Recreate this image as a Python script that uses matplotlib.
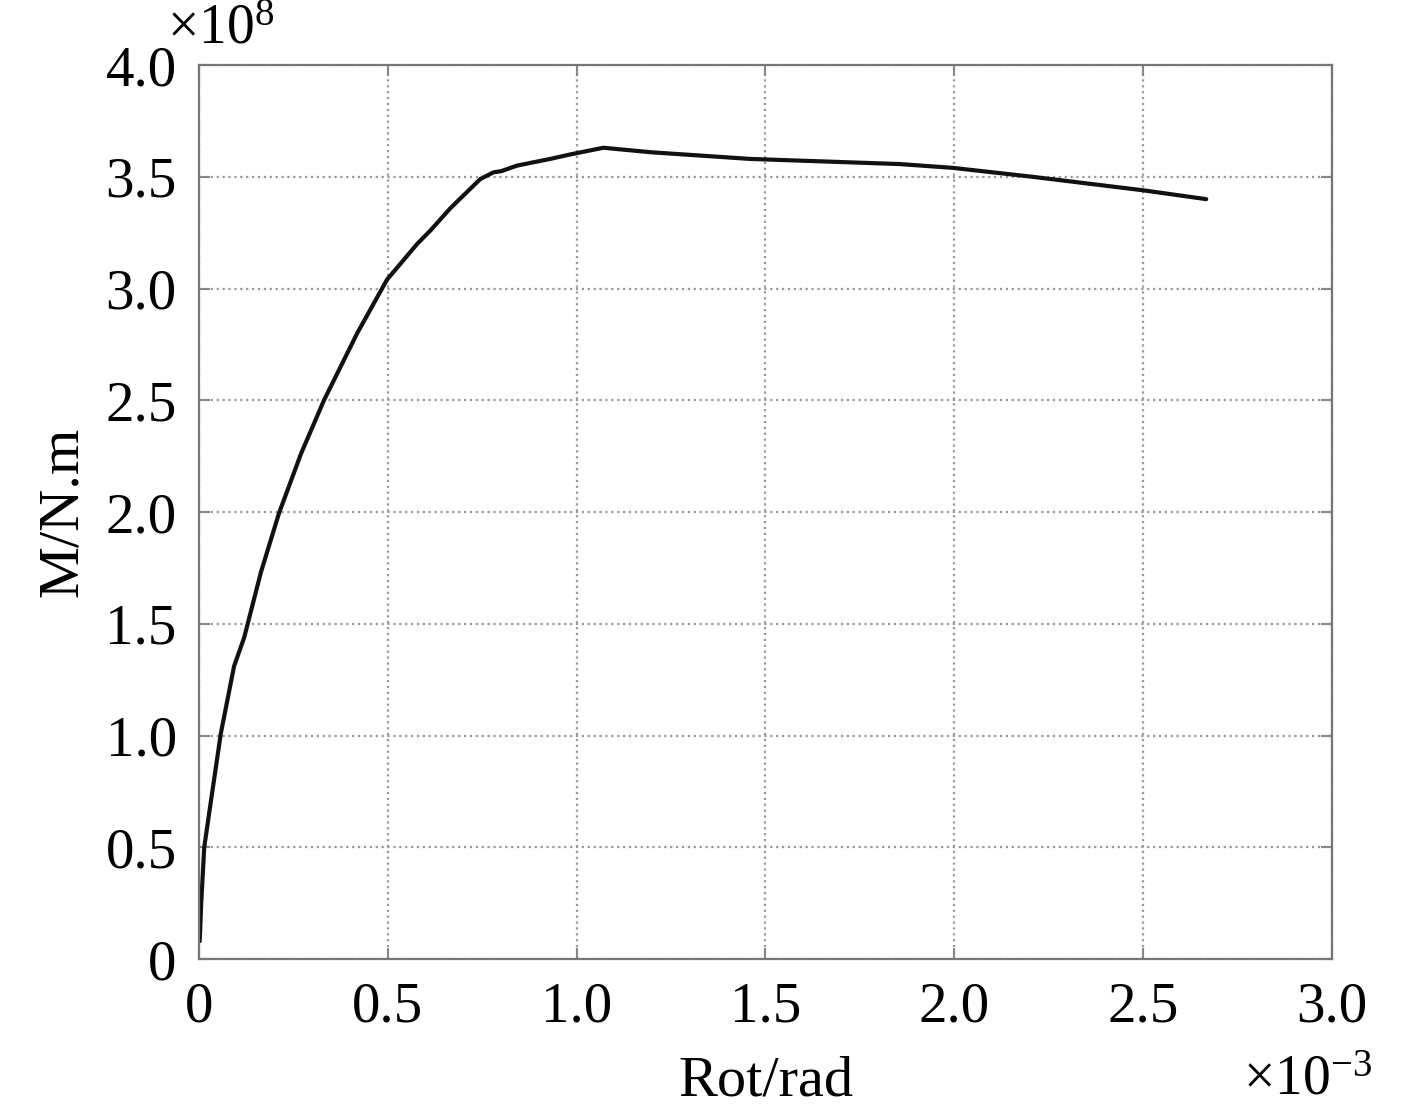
import numpy as np
import matplotlib
matplotlib.use('Agg')
import matplotlib.pyplot as plt

# Rotation (x 1e-3 rad) and moment (x 1e8 N.m)
rot = [0.002, 0.006, 0.014, 0.032, 0.058, 0.093, 0.120, 0.164, 0.212, 0.270,
       0.331, 0.419, 0.498, 0.578, 0.613, 0.666, 0.745, 0.780, 0.800, 0.842,
       0.93, 0.983, 1.071, 1.195, 1.459, 1.855, 1.996, 2.207, 2.498, 2.667]
moment = [0.08, 0.25, 0.50, 0.71, 1.01, 1.31, 1.44, 1.73, 1.995, 2.26,
          2.50, 2.80, 3.04, 3.20, 3.26, 3.36, 3.49, 3.52, 3.525, 3.55,
          3.58, 3.60, 3.63, 3.61, 3.58, 3.557, 3.54, 3.50, 3.44, 3.40]

x_ticks = [0, 0.5, 1.0, 1.5, 2.0, 2.5, 3.0]
x_labels = ['0', '0.5', '1.0', '1.5', '2.0', '2.5', '3.0']
y_ticks = [0, 0.5, 1.0, 1.5, 2.0, 2.5, 3.0, 3.5, 4.0]
y_labels = ['0', '0.5', '1.0', '1.5', '2.0', '2.5', '3.0', '3.5', '4.0']

plt.rcParams['font.family'] = ['Liberation Serif', 'DejaVu Serif']
plt.rcParams['mathtext.fontset'] = 'custom'
plt.rcParams['mathtext.rm'] = 'Liberation Serif'
plt.rcParams['mathtext.it'] = 'Liberation Serif:italic'

fig = plt.figure(figsize=(14.17, 11.1), dpi=100)
ax = fig.add_axes([0.1404, 0.136, 0.7996, 0.8054])

ax.plot(rot, moment, color='#111111', linewidth=3.0, solid_capstyle='round')

ax.set_xlim(0, 3.0)
ax.set_ylim(0, 4.0)
ax.set_xticks(x_ticks)
ax.set_xticklabels(x_labels)
ax.set_yticks(y_ticks)
ax.set_yticklabels(y_labels)

ax.grid(True, linestyle=':', color='#999999', linewidth=1.6)
ax.tick_params(direction='in', length=8, width=1.5, color='#888888',
               top=True, right=True, labelsize=41)
ax.tick_params(axis='y', pad=16)
ax.tick_params(axis='x', pad=16)
for s in ax.spines.values():
    s.set_color('#777777')
    s.set_linewidth(1.6)

ax.set_xlabel('Rot/rad', fontsize=42, labelpad=16)
ax.set_ylabel('M/N.m', fontsize=42, labelpad=12)

fig.text(0.118, 0.997, r'$\times\mathrm{10}^{8}$', fontsize=40, ha='left', va='top')
fig.text(0.877, 0.003, r'$\times\mathrm{10}^{-3}$', fontsize=40, ha='left', va='bottom')

fig.savefig('out.png', dpi=100)
